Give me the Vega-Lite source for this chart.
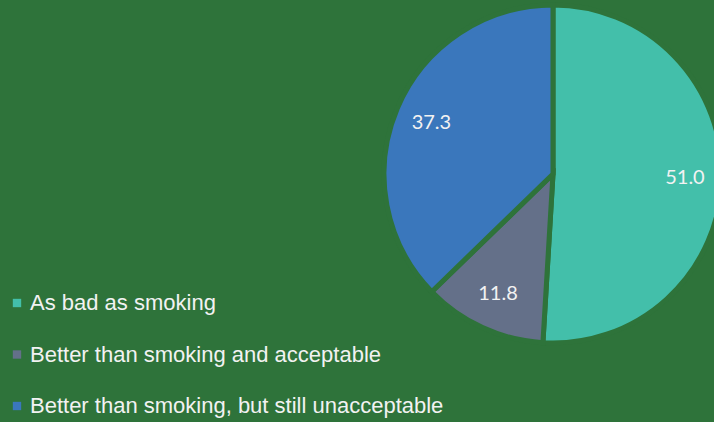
{
  "$schema": "https://vega.github.io/schema/vega-lite/v6.json",
  "autosize": "none",
  "width": 322,
  "height": 348,
  "padding": {"left": 392, "top": 0, "right": 0, "bottom": 74},
  "background": "#2E733A",
  "config": {"view": {"stroke": null}},
  "data": {
    "values": [
      {"category": "As bad as smoking", "value": 51.0, "order": 1},
      {"category": "Better than smoking and acceptable", "value": 11.8, "order": 2},
      {"category": "Better than smoking, but still unacceptable", "value": 37.3, "order": 3}
    ]
  },
  "encoding": {
    "theta": {"field": "value", "type": "quantitative", "stack": true},
    "order": {"field": "order", "type": "quantitative"},
    "color": {
      "field": "category",
      "type": "nominal",
      "sort": ["As bad as smoking", "Better than smoking and acceptable", "Better than smoking, but still unacceptable"],
      "scale": {
        "domain": ["As bad as smoking", "Better than smoking and acceptable", "Better than smoking, but still unacceptable"],
        "range": ["#43BFAA", "#647089", "#3A77BC"]
      },
      "legend": {
        "title": null,
        "orient": "none",
        "legendX": -386,
        "legendY": 292,
        "padding": 0,
        "symbolType": "square",
        "symbolSize": 70,
        "symbolStrokeWidth": 0,
        "labelFont": "Liberation Sans",
        "labelFontSize": 22,
        "labelColor": "#F2F2F2",
        "labelOffset": 2,
        "labelLimit": 600,
        "rowPadding": 29.5
      }
    }
  },
  "layer": [
    {
      "mark": {"type": "arc", "outerRadius": 169, "stroke": "#2E733A", "strokeWidth": 5}
    },
    {
      "mark": {"type": "text", "radius": 132, "font": "Lato", "fontSize": 20},
      "encoding": {
        "text": {"field": "value", "type": "quantitative", "format": ".1f"},
        "color": {"value": "#F2F2F2"}
      }
    }
  ]
}
